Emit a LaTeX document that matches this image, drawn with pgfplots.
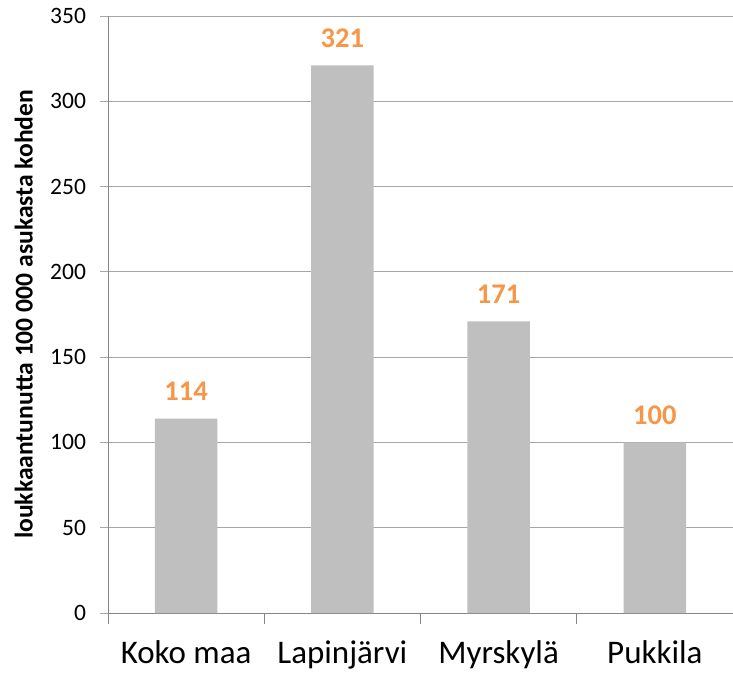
\documentclass[border=0pt]{standalone}
\usepackage{pgfplots}
\pgfplotsset{compat=1.18}
\usepackage{fontspec}
\setmainfont{Carlito}
\definecolor{barg}{HTML}{BFBFBF}
\definecolor{lbl}{HTML}{F79646}
\definecolor{gridc}{HTML}{A6A6A6}
\definecolor{axc}{HTML}{868686}
\begin{document}
\begin{tikzpicture}[x=1pt,y=1pt]
\useasboundingbox (-108,-59) rectangle (625,613);
\begin{axis}[
  at={(0,0)}, anchor=south west,
  scale only axis, width=625pt, height=597pt,
  ymin=0, ymax=350, ytick={0,50,...,350},
  xmin=-0.5, xmax=3.5,
  xtick={0,1,2,3},
  xticklabels={Koko maa, Lapinjärvi, Myrskylä, Pukkila},
  minor xtick={-0.5,0.5,1.5,2.5,3.5},
  axis x line=bottom, axis y line=left,
  axis line style={draw=axc, line width=0.9pt, -},
  ymajorgrids, major grid style={draw=gridc, line width=0.9pt},
  x tick style={draw=none},
  minor x tick style={draw=axc, line width=0.9pt},
  minor tick length=11pt,
  y tick style={draw=gridc, line width=0.9pt},
  major tick length=8pt,
  tick align=outside,
  /pgf/number format/assume math mode=true,
  yticklabel style={font=\fontsize{23.5}{23.5}\selectfont, xshift=-10.5pt},
  xticklabel style={font=\fontsize{33}{33}\selectfont, yshift=-16pt},
  ylabel={loukkaantunutta 100 000 asukasta kohden},
  every axis y label/.style={at={(axis description cs:-0.135,0.5)}, rotate=90, anchor=center, font=\fontsize{25.6}{25.6}\selectfont\bfseries},
  nodes near coords,
  every node near coord/.append style={font=\fontsize{28.5}{28.5}\selectfont\bfseries, text=lbl, anchor=south, yshift=14.7pt},
  point meta=explicit symbolic,
  clip=false,
]
\addplot[ybar, bar width=0.4, fill=barg, draw=none] coordinates {
  (0,114) [114]
  (1,321) [321]
  (2,171) [171]
  (3,100) [100]
};
\end{axis}
\end{tikzpicture}
\end{document}
